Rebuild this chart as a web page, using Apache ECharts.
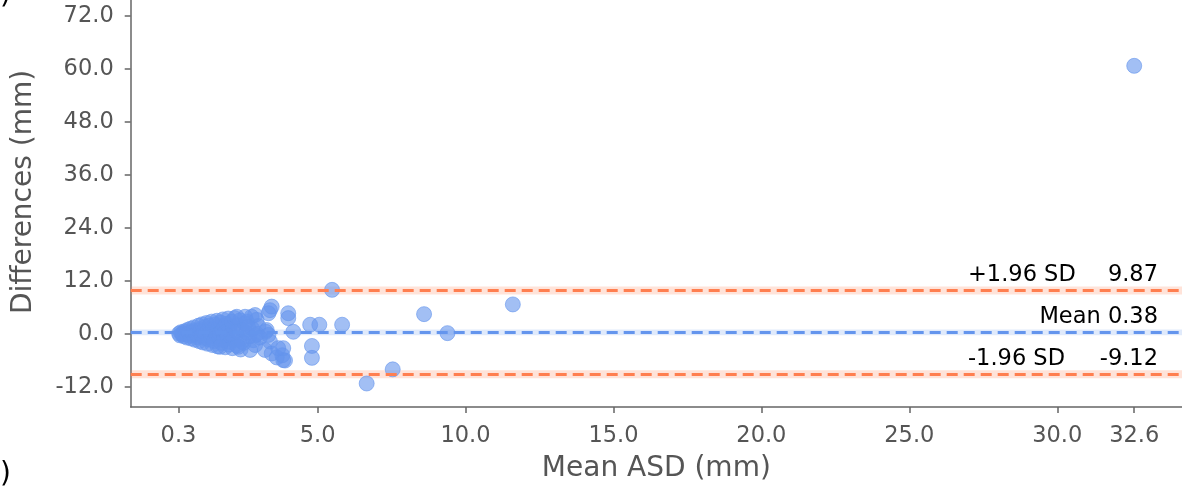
<!DOCTYPE html>
<html>
<head>
<meta charset="utf-8">
<script src="https://cdn.jsdelivr.net/npm/echarts@6/dist/echarts.min.js"></script>
<style>
html,body{margin:0;padding:0;background:#fff;}
#chart{width:1182px;height:488px;}
</style>
</head>
<body>
<div id="chart"></div>
<script>
// ---- data ----
const meanASD = [
  0.32,0.35,0.38,0.42,0.45,0.48,0.5,0.55,0.58,0.6,
  0.65,0.68,0.7,0.72,0.75,0.8,0.82,0.85,0.88,0.9,
  0.95,0.98,1.0,1.02,1.05,1.08,1.1,1.12,1.15,1.18,
  1.2,1.22,1.25,1.28,1.3,1.32,1.35,1.38,1.4,1.42,
  1.45,1.48,1.5,1.52,1.55,1.58,1.6,1.62,1.65,1.68,
  1.7,1.72,1.75,1.78,1.8,1.82,1.85,1.88,1.9,1.92,
  1.95,1.98,2.0,2.02,2.05,2.08,2.1,2.12,2.15,2.18,
  2.2,2.25,2.28,2.3,2.35,2.38,2.4,2.45,2.5,2.55,
  2.27,2.61,2.77,2.89,2.55,2.94,2.83,2.89,2.72,2.44,
  2.32,1.70,3.25,3.34,3.39,3.28,3.22,3.45,3.62,3.84,
  3.90,3.81,3.84,3.67,3.39,3.45,3.34,4.01,4.01,4.18,
  4.75,5.06,5.83,4.81,4.81,5.49,8.6,9.39,11.6,7.54,
  6.66,32.6,
  2.6,2.7,2.8,2.95,3.0,3.05,2.65,2.9
];
const diffASD = [
  0.1,-0.3,0.4,-0.1,0.2,-0.5,0.6,0.0,-0.8,0.9,
  0.3,-0.4,1.2,-1.0,0.5,-0.2,1.5,-1.3,0.8,0.1,
  -0.7,1.9,-1.6,0.4,1.1,-0.3,2.2,-1.9,0.7,-0.9,
  1.6,0.0,2.5,-2.2,0.9,-1.2,1.9,0.3,-0.6,2.8,
  -2.5,1.2,-1.6,0.6,2.2,-0.2,3.0,-2.8,1.4,-1.0,
  0.2,2.6,-2.0,0.9,3.3,-1.4,1.8,-3.0,0.5,2.3,
  -0.6,3.5,-2.4,1.2,-1.8,0.0,2.8,-3.2,1.6,-0.9,
  3.6,0.6,-2.6,2.0,-1.2,3.1,-3.5,1.0,-2.0,2.4,
  3.9,2.8,3.9,4.3,3.9,3.2,-1.4,-2.5,-3.6,-1.7,
  -2.9,-2.9,0.5,-0.2,-1.7,0.9,-3.6,-4.4,-5.3,-5.9,
  -6.0,-4.8,-3.2,-3.2,5.4,6.2,4.7,4.7,3.6,0.5,
  2.1,2.1,2.1,-2.7,-5.4,10.0,4.5,0.2,6.7,-8.0,
  -11.2,60.7,
  0.3,-0.5,1.1,0.0,1.8,-0.8,1.6,-0.3
];
const meanDiff = 0.38;
const upperLoA = 9.87;
const lowerLoA = -9.12;
const upperCI = [8.97, 10.77];
const meanCI = [-0.27, 1.03];
const lowerCI = [-10.02, -8.22];
const xTicks = [0.3, 5, 10, 15, 20, 25, 30, 32.6];
const yTicks = [-12, 0, 12, 24, 36, 48, 60, 72];
const xTitle = 'Mean ASD (mm)';
const yTitle = 'Differences (mm)';

// ---- chart ----
const points = meanASD.map((x, i) => [x, diffASD[i]]);
const FONT = 'DejaVu Sans';
const AX = '#666';
const LBL = '#555';
const blue = '#6495ED';
const coral = '#FF7F50';

const chart = echarts.init(document.getElementById('chart'), null, {renderer: 'canvas'});
const fmt = v => Number(v).toFixed(1);

chart.setOption({
  animation: false,
  backgroundColor: '#fff',
  grid: {left: 130.7, right: 0, top: 0, bottom: 80.7},
  xAxis: {
    type: 'value', min: -1.315, max: 34.215,
    name: xTitle, nameLocation: 'middle', nameGap: 48,
    nameTextStyle: {fontFamily: FONT, fontSize: 28, color: LBL},
    axisLine: {show: true, onZero: false, lineStyle: {color: AX, width: 1.5}},
    axisTick: {show: true, customValues: xTicks, length: 6, lineStyle: {color: AX, width: 1.5}},
    axisLabel: {customValues: xTicks, formatter: fmt, fontFamily: FONT, fontSize: 22.5, color: LBL, margin: 18},
    splitLine: {show: false}
  },
  yAxis: {
    type: 'value', min: -16.52, max: 75.6,
    name: yTitle, nameLocation: 'middle', nameGap: 93,
    nameTextStyle: {fontFamily: FONT, fontSize: 28, color: LBL, padding: [0, 0, 0, 23]},
    axisLine: {show: true, onZero: false, lineStyle: {color: AX, width: 1.5}},
    axisTick: {show: true, customValues: yTicks, length: 6, lineStyle: {color: AX, width: 1.5}},
    axisLabel: {customValues: yTicks, formatter: fmt, fontFamily: FONT, fontSize: 22.5, color: LBL, margin: 17},
    splitLine: {show: false}
  },
  series: [
    {
      type: 'scatter', data: [], z: 1, silent: true,
      markArea: {
        silent: true,
        data: [
          [{yAxis: upperCI[0], itemStyle: {color: 'rgba(255,127,80,0.22)'}}, {yAxis: upperCI[1]}],
          [{yAxis: meanCI[0], itemStyle: {color: 'rgba(100,149,237,0.2)'}}, {yAxis: meanCI[1]}],
          [{yAxis: lowerCI[0], itemStyle: {color: 'rgba(255,127,80,0.22)'}}, {yAxis: lowerCI[1]}]
        ]
      },
      markLine: {
        silent: true, symbol: 'none', label: {show: false},
        data: [
          {yAxis: upperLoA, lineStyle: {color: coral, width: 3, type: [11, 6]}},
          {yAxis: meanDiff, lineStyle: {color: blue, width: 3, type: [11, 6]}},
          {yAxis: lowerLoA, lineStyle: {color: coral, width: 3, type: [11, 6]}}
        ]
      }
    },
    {
      type: 'scatter', data: points, z: 3, symbol: 'circle', symbolSize: 15,
      itemStyle: {color: 'rgba(100,149,237,0.6)', borderColor: 'rgba(100,149,237,0.6)', borderWidth: 1, opacity: 1}
    }
  ]
});

const yPix = v => chart.convertToPixel({yAxisIndex: 0}, v);
const W = chart.getWidth();
const txt = (text, x, y, align) => ({
  type: 'text', x: x, y: y, silent: true,
  style: {text: text, fontFamily: FONT, fontSize: 22.5, fill: '#000', align: align, verticalAlign: 'middle'}
});
chart.setOption({
  graphic: [
    txt('+1.96 SD', W - 214, yPix(upperLoA) - 15, 'left'),
    txt(upperLoA.toFixed(2), W - 24, yPix(upperLoA) - 15, 'right'),
    txt('Mean ' + meanDiff.toFixed(2), W - 24, yPix(meanDiff) - 15, 'right'),
    txt('-1.96 SD', W - 214, yPix(lowerLoA) - 15, 'left'),
    txt(lowerLoA.toFixed(2), W - 24, yPix(lowerLoA) - 15, 'right'),
    {type: 'text', x: 0, y: -4, silent: true, style: {text: ')', fontFamily: FONT, fontSize: 28, fill: '#000', verticalAlign: 'middle'}},
    {type: 'text', x: 0, y: 475, silent: true, style: {text: ')', fontFamily: FONT, fontSize: 28, fill: '#000', verticalAlign: 'middle'}}
  ]
});
</script>
</body>
</html>
